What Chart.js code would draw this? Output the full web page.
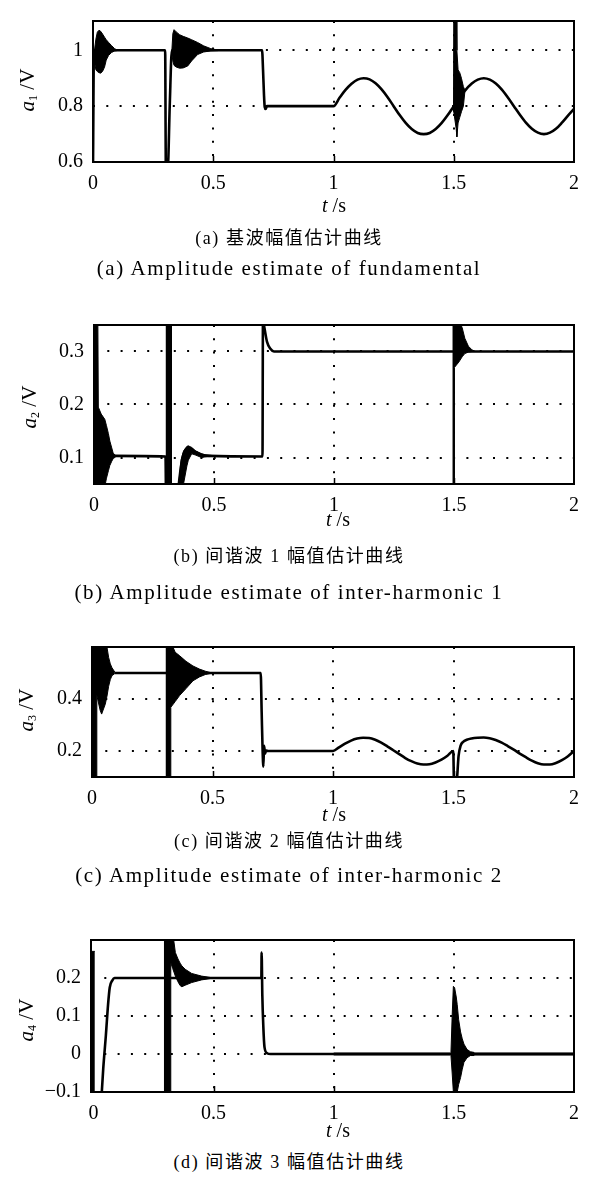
<!DOCTYPE html>
<html>
<head>
<meta charset="utf-8">
<script src="https://cdn.jsdelivr.net/npm/chart.js@4.4.0/dist/chart.umd.min.js"></script>
<style>
  body { margin: 0; background: #fff; }
  #page { position: relative; width: 589px; height: 1196px; overflow: hidden; color: #000;
          font-family: "Liberation Serif", "Noto Sans CJK SC", serif; }
  canvas { position: absolute; left: 0; }
  .ylab { position: absolute; font-size: 21px; line-height: 1; white-space: nowrap;
          transform: translate(-50%, -50%) rotate(-90deg); }
  .ylab sub { font-size: 12px; vertical-align: -3px; }
  .xlab { position: absolute; font-size: 20px; line-height: 1; white-space: nowrap;
          transform: translate(-50%, -50%); }
  .cap { position: absolute; left: 0; width: 578px; text-align: center; white-space: nowrap; line-height: 24px; }
  .cap.zh { font-size: 18px; letter-spacing: 1.6px; }
  .cap.en { font-size: 21px; letter-spacing: 1.6px; }
</style>
</head>
<body>
<div id="page">
  <canvas id="c1"></canvas>
  <canvas id="c2"></canvas>
  <canvas id="c3"></canvas>
  <canvas id="c4"></canvas>

  <div class="ylab" style="left:28px;top:90px"><i>a</i><sub>1</sub> /V</div>
  <div class="ylab" style="left:30px;top:407px"><i>a</i><sub>2</sub> /V</div>
  <div class="ylab" style="left:27px;top:710px"><i>a</i><sub>3</sub> /V</div>
  <div class="ylab" style="left:27px;top:1020px"><i>a</i><sub>4</sub> /V</div>

  <div class="xlab" style="left:334px;top:205px"><i>t</i> /s</div>
  <div class="xlab" style="left:338px;top:519px"><i>t</i> /s</div>
  <div class="xlab" style="left:334px;top:814px"><i>t</i> /s</div>
  <div class="xlab" style="left:338px;top:1130px"><i>t</i> /s</div>

  <div class="cap zh" style="top:226px">(a) 基波幅值估计曲线</div>
  <div class="cap en" style="top:256px">(a) Amplitude estimate of fundamental</div>
  <div class="cap zh" style="top:544px">(b) 间谐波 1 幅值估计曲线</div>
  <div class="cap en" style="top:580px">(b) Amplitude estimate of inter-harmonic 1</div>
  <div class="cap zh" style="top:829px">(c) 间谐波 2 幅值估计曲线</div>
  <div class="cap en" style="top:863px">(c) Amplitude estimate of inter-harmonic 2</div>
  <div class="cap zh" style="top:1150px">(d) 间谐波 3 幅值估计曲线</div>
</div>

<script>
// tick values
const xTicks = [0, 0.5, 1, 1.5, 2];
const a1Ticks = [0.6, 0.8, 1];
const a2Ticks = [0.1, 0.2, 0.3];
const a3Ticks = [0.2, 0.4];
const a4Ticks = [-0.1, 0, 0.1, 0.2];

// estimated traces, [t, value]
const a1Trace = [
  [0, 0.58], [0.004, 1.0], [0.1, 1.0], [0.3, 1.0], [0.303, 0.58], [0.311, 0.58], [0.319, 0.8], [0.328, 1.0],
  [0.52, 1.0], [0.703, 1.0], [0.707, 0.93], [0.711, 0.84], [0.714, 0.797], [0.718, 0.79], [0.723, 0.8], [1.0, 0.8],
  [1.025, 0.83], [1.05, 0.858], [1.075, 0.88], [1.1, 0.895], [1.125, 0.9], [1.15, 0.896], [1.175, 0.882],
  [1.2, 0.86], [1.225, 0.832], [1.25, 0.8], [1.275, 0.768], [1.3, 0.74], [1.325, 0.718], [1.35, 0.704],
  [1.375, 0.7], [1.4, 0.704], [1.425, 0.718], [1.45, 0.74], [1.475, 0.768], [1.5, 0.8],
  [1.546, 0.855], [1.575, 0.881], [1.6, 0.895], [1.625, 0.9], [1.65, 0.895], [1.675, 0.881], [1.7, 0.859],
  [1.725, 0.831], [1.75, 0.8], [1.775, 0.769], [1.8, 0.741], [1.825, 0.719], [1.85, 0.705], [1.875, 0.7],
  [1.9, 0.705], [1.925, 0.719], [1.95, 0.741], [1.975, 0.766], [2.0, 0.79]
];
const a2Trace = [
  [0.085, 0.103], [0.298, 0.102], [0.3, 0.04], [0.35, 0.04], [0.356, 0.06], [0.363, 0.085], [0.372, 0.105],
  [0.382, 0.115], [0.393, 0.118], [0.407, 0.116], [0.425, 0.11], [0.45, 0.105], [0.48, 0.103], [0.702, 0.102],
  [0.704, 0.36], [0.71, 0.345], [0.721, 0.318], [0.735, 0.305], [0.75, 0.3], [2.0, 0.3]
];
const a3Trace = [
  [0.095, 0.5], [0.7, 0.5], [0.704, 0.35], [0.708, 0.2], [0.711, 0.14], [0.714, 0.22], [0.718, 0.19],
  [0.723, 0.202], [0.73, 0.2], [1.0, 0.2], [1.025, 0.214], [1.05, 0.228], [1.075, 0.24], [1.1, 0.248],
  [1.125, 0.251], [1.15, 0.25], [1.175, 0.243], [1.2, 0.232], [1.225, 0.218], [1.25, 0.203], [1.275, 0.188],
  [1.3, 0.173], [1.325, 0.161], [1.35, 0.152], [1.375, 0.148], [1.4, 0.149], [1.425, 0.156], [1.45, 0.167],
  [1.475, 0.182], [1.499, 0.2], [1.502, 0.08], [1.509, 0.06], [1.515, 0.1], [1.521, 0.18], [1.53, 0.222],
  [1.54, 0.235], [1.555, 0.243], [1.575, 0.248], [1.6, 0.251], [1.625, 0.252], [1.65, 0.249], [1.675, 0.242],
  [1.7, 0.232], [1.725, 0.219], [1.75, 0.205], [1.775, 0.19], [1.8, 0.176], [1.825, 0.163], [1.85, 0.153],
  [1.875, 0.148], [1.9, 0.148], [1.925, 0.154], [1.95, 0.165], [1.975, 0.18], [2.0, 0.2]
];
const a4Trace = [
  [0.034, -0.11], [0.041, -0.038], [0.052, 0.05], [0.061, 0.13], [0.068, 0.175], [0.079, 0.194], [0.088, 0.2],
  [0.293, 0.2], [0.5, 0.2], [0.699, 0.2], [0.7, 0.267], [0.703, 0.154], [0.707, 0.074], [0.712, 0.018],
  [0.723, 0.002], [0.737, 0], [2.0, 0]
];

// oscillation bursts, [t, upper envelope, lower envelope]
const a1Bursts = [
  [[0.006, 1.0, 0.96], [0.012, 1.04, 0.93], [0.018, 1.065, 0.924], [0.025, 1.072, 0.92], [0.032, 1.068, 0.918],
   [0.04, 1.058, 0.925], [0.048, 1.047, 0.94], [0.055, 1.038, 0.965], [0.065, 1.028, 0.982], [0.077, 1.017, 0.992],
   [0.09, 1.006, 0.998], [0.1, 1.001, 0.999]],
  [[0.328, 1.0, 0.985], [0.332, 1.06, 0.962], [0.337, 1.074, 0.946], [0.346, 1.066, 0.94], [0.36, 1.056, 0.936],
   [0.375, 1.05, 0.937], [0.394, 1.044, 0.944], [0.41, 1.038, 0.962], [0.435, 1.028, 0.985], [0.46, 1.016, 0.994],
   [0.49, 1.006, 0.998], [0.52, 1.001, 0.999]],
  [[1.497, 0.8, 0.79], [1.5, 1.15, 0.78], [1.51, 1.15, 0.72], [1.513, 1.0, 0.69], [1.518, 0.93, 0.74],
   [1.525, 0.92, 0.76], [1.532, 0.9, 0.78], [1.54, 0.87, 0.8], [1.546, 0.858, 0.85]]
];
const a2Bursts = [
  [[0, 0.36, 0.04], [0.016, 0.36, 0.04], [0.018, 0.195, 0.04], [0.03, 0.182, 0.04], [0.045, 0.172, 0.045],
   [0.052, 0.16, 0.061], [0.06, 0.145, 0.075], [0.066, 0.131, 0.085], [0.074, 0.118, 0.093], [0.08, 0.108, 0.098],
   [0.09, 0.104, 0.101]],
  [[0.298, 0.36, 0.04], [0.325, 0.36, 0.04]],
  [[0.352, 0.045, 0.04], [0.363, 0.096, 0.04], [0.373, 0.112, 0.05], [0.387, 0.121, 0.084], [0.393, 0.122, 0.095],
   [0.407, 0.119, 0.107], [0.421, 0.113, 0.105], [0.448, 0.107, 0.1], [0.462, 0.105, 0.101], [0.49, 0.104, 0.102]],
  [[1.493, 0.36, 0.04], [1.5, 0.36, 0.04], [1.502, 0.36, 0.27], [1.52, 0.36, 0.28], [1.534, 0.345, 0.29],
   [1.545, 0.325, 0.296], [1.56, 0.31, 0.299], [1.575, 0.303, 0.3], [1.59, 0.3, 0.3]]
];
const a3Bursts = [
  [[0, 0.65, 0.05], [0.018, 0.65, 0.05], [0.02, 0.65, 0.414], [0.034, 0.65, 0.356], [0.04, 0.65, 0.342],
   [0.055, 0.65, 0.38], [0.062, 0.6, 0.41], [0.069, 0.56, 0.449], [0.076, 0.535, 0.475], [0.083, 0.52, 0.49],
   [0.095, 0.503, 0.498]],
  [[0.305, 0.65, 0.05], [0.325, 0.65, 0.05], [0.327, 0.62, 0.368], [0.345, 0.58, 0.39], [0.364, 0.566, 0.414],
   [0.39, 0.545, 0.44], [0.419, 0.527, 0.47], [0.446, 0.515, 0.485], [0.47, 0.507, 0.494], [0.49, 0.502, 0.498]]
];
const a4Bursts = [
  [[-0.012, 0.27, -0.12], [0.006, 0.27, -0.12]],
  [[0.293, 0.32, -0.12], [0.32, 0.32, -0.12], [0.322, 0.32, 0.24], [0.33, 0.32, 0.225], [0.341, 0.267, 0.205],
   [0.352, 0.25, 0.19], [0.361, 0.239, 0.18], [0.368, 0.232, 0.177], [0.382, 0.223, 0.181], [0.409, 0.212, 0.188],
   [0.45, 0.205, 0.195], [0.49, 0.201, 0.199], [0.5, 0.2, 0.2]],
  [[1.0, 0.0025, -0.0025], [2.0, 0.0025, -0.0025]],
  [[1.488, 0.004, -0.004], [1.493, 0.1, -0.05], [1.498, 0.178, -0.1], [1.503, 0.175, -0.11], [1.51, 0.15, -0.11],
   [1.514, 0.13, -0.1], [1.52, 0.09, -0.08], [1.528, 0.058, -0.062], [1.535, 0.04, -0.04], [1.542, 0.026, -0.022],
   [1.555, 0.012, -0.01], [1.569, 0.006, -0.004], [1.585, 0.004, -0.004]]
];

// plot boxes on the page
const panels = [
  { id: 'c1', left: 93, right: 577, top: 7,   bottom: 162,  xMin: 0,     xMax: 2, yMin: 0.6,  yMax: 1.105 },
  { id: 'c2', left: 94, right: 582, top: 311, bottom: 484,  xMin: 0,     xMax: 2, yMin: 0.05, yMax: 0.35 },
  { id: 'c3', left: 92, right: 576, top: 633, bottom: 777,  xMin: 0,     xMax: 2, yMin: 0.1,  yMax: 0.6 },
  { id: 'c4', left: 91, right: 582, top: 926, bottom: 1092, xMin: -0.01, xMax: 2, yMin: -0.1, yMax: 0.3 }
];

Chart.defaults.font.family = 'Liberation Serif';
Chart.defaults.font.size = 20;
Chart.defaults.color = '#000';

const fmt = v => String(v).replace('-', '\u2212');
const PAD_TOP = 8, TICK_AREA = 40;

const framePlugin = {
  id: 'frame',
  afterDatasetsDraw(chart) {
    const { ctx, chartArea: a } = chart;
    const xs = chart.scales.x;
    ctx.save();
    ctx.strokeStyle = '#000';
    ctx.lineWidth = 1.5;
    xs.ticks.forEach((t, i) => {
      if (i === 0 || i === xs.ticks.length - 1) return;
      const px = Math.round(xs.getPixelForValue(t.value)) + 0.5;
      ctx.beginPath();
      ctx.moveTo(px, a.bottom);
      ctx.lineTo(px, a.bottom - 6);
      ctx.stroke();
    });
    ctx.lineWidth = 2;
    ctx.strokeRect(a.left, a.top, a.right - a.left, a.bottom - a.top);
    ctx.restore();
  }
};

function drawPanel(p, trace, bursts, yTicks) {
  const cv = document.getElementById(p.id);
  cv.width = 589;
  cv.height = p.bottom - p.top + PAD_TOP + TICK_AREA;
  cv.style.top = (p.top - PAD_TOP) + 'px';

  const datasets = [{
    data: trace.map(([x, y]) => ({ x, y })),
    borderColor: '#000', borderWidth: 2.6, pointRadius: 0,
    cubicInterpolationMode: 'monotone', fill: false
  }];
  bursts.forEach(b => {
    datasets.push({
      data: b.map(([x, hi]) => ({ x, y: hi })),
      borderColor: '#000', borderWidth: 1, pointRadius: 0, fill: false
    });
    datasets.push({
      data: b.map(([x, , lo]) => ({ x, y: lo })),
      borderColor: '#000', borderWidth: 1, pointRadius: 0,
      backgroundColor: '#000', fill: '-1'
    });
  });

  const gridColor = (edge) => c => (c.tick && edge(c.tick.value)) ? 'rgba(0,0,0,0)' : '#000';
  const near = (a, b) => Math.abs(a - b) < 1e-9;

  new Chart(cv, {
    type: 'line',
    data: { datasets },
    options: {
      responsive: false,
      animation: false,
      layout: { padding: { top: PAD_TOP, left: 0, right: 589 - p.right, bottom: 0 } },
      plugins: { legend: { display: false }, tooltip: { enabled: false } },
      scales: {
        x: {
          type: 'linear', min: p.xMin, max: p.xMax,
          afterBuildTicks: s => { s.ticks = xTicks.map(v => ({ value: v })); },
          afterFit: s => { s.height = TICK_AREA; },
          ticks: { autoSkip: false, maxRotation: 0, padding: 10, callback: v => fmt(v) },
          grid: {
            drawTicks: false, lineWidth: 2,
            color: gridColor(v => near(v, xTicks[0]) || near(v, xTicks[xTicks.length - 1]))
          },
          border: { display: false, dash: [2, 11.3] }
        },
        y: {
          type: 'linear', min: p.yMin, max: p.yMax,
          afterBuildTicks: s => { s.ticks = yTicks.map(v => ({ value: v })); },
          afterFit: s => { s.width = p.left; },
          ticks: { autoSkip: false, padding: 10, callback: v => fmt(v) },
          grid: {
            drawTicks: false, lineWidth: 2,
            color: gridColor(v => near(v, p.yMin) || near(v, p.yMax))
          },
          border: { display: false, dash: [2, 11.3] }
        }
      }
    },
    plugins: [framePlugin]
  });
}

drawPanel(panels[0], a1Trace, a1Bursts, a1Ticks);
drawPanel(panels[1], a2Trace, a2Bursts, a2Ticks);
drawPanel(panels[2], a3Trace, a3Bursts, a3Ticks);
drawPanel(panels[3], a4Trace, a4Bursts, a4Ticks);
</script>
</body>
</html>
